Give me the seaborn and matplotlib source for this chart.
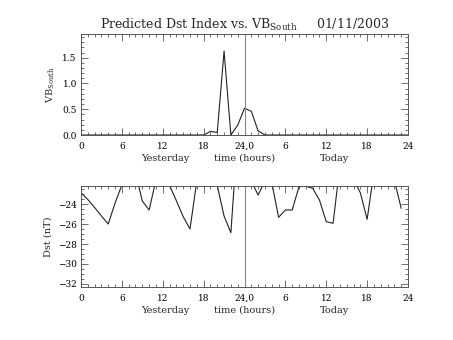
import matplotlib
matplotlib.use("Agg")
import matplotlib.pyplot as plt
from matplotlib.ticker import MultipleLocator, FixedLocator
import numpy as np
import pandas as pd
import seaborn as sns

# Hourly VB_South (0..48 h, yesterday + today)
vb_hours = list(range(49))
vb_south = [0, 0, 0, 0, 0, 0, 0, 0, 0, 0, 0, 0, 0, 0, 0, 0, 0, 0,
            0.0, 0.07, 0.05, 1.63, 0.0, 0.19, 0.52, 0.46, 0.08, 0.0,
            0, 0, 0, 0, 0, 0, 0, 0, 0, 0, 0, 0, 0, 0, 0, 0, 0, 0, 0, 0, 0]

# Hourly predicted Dst (nT), 0..47 h
dst_hours = list(range(48))
dst_values = [-22.87, -23.55, -24.35, -25.2, -26.0, -23.9, -22.1, -21.3,
              -20.87, -23.7, -24.6, -21.6, -21.2, -22.15, -23.67, -25.27,
              -26.5, -21.7, -21.4, -21.6, -22.15, -25.2, -26.87, -17.0,
              -20.0, -21.7, -23.1, -21.7, -21.85, -25.33, -24.6, -24.6,
              -22.27, -22.22, -22.43, -23.6, -25.77, -25.93, -20.2, -21.0,
              -21.53, -22.87, -25.53, -20.8, -21.2, -21.5, -21.64, -24.43]

tick_pos = [0, 6, 12, 18, 24, 30, 36, 42, 48]
tick_labels = ["0", "6", "12", "18", "24,0", "6", "12", "18", "24"]
day_labels = [(12.4, "Yesterday"), (24.0, "time (hours)"), (37.2, "Today")]

sns.set_style("ticks")
plt.rcParams["font.family"] = ["DejaVu Serif"]
plt.rcParams["mathtext.fontset"] = "dejavuserif"

fig = plt.figure(figsize=(4.53, 3.40), dpi=100)
ax1 = fig.add_axes([0.1788, 0.6029, 0.7219, 0.297])
ax2 = fig.add_axes([0.1788, 0.1559, 0.7219, 0.297])

df_vb = pd.DataFrame({"hour": vb_hours, "vb": vb_south})
df_dst = pd.DataFrame({"hour": dst_hours, "dst": dst_values})

sns.lineplot(data=df_vb, x="hour", y="vb", ax=ax1, color="#222222", lw=0.8)
sns.lineplot(data=df_dst, x="hour", y="dst", ax=ax2, color="#222222", lw=0.8)

ax1.set_ylim(0, 1.96)
ax2.set_ylim(-32.3, -22.2)
ax1.yaxis.set_major_locator(FixedLocator([0.0, 0.5, 1.0, 1.5]))
ax1.yaxis.set_major_formatter(matplotlib.ticker.FormatStrFormatter("%.1f"))
ax1.yaxis.set_minor_locator(MultipleLocator(0.1))
ax2.yaxis.set_major_locator(FixedLocator([-32, -30, -28, -26, -24]))
ax2.yaxis.set_minor_locator(MultipleLocator(0.5))

for ax in (ax1, ax2):
    ax.set_xlim(0, 48)
    ax.axvline(24, color="#888888", lw=0.8)
    ax.set_xticks(tick_pos)
    ax.set_xticklabels(tick_labels)
    ax.xaxis.set_minor_locator(MultipleLocator(1))
    ax.tick_params(which="both", direction="in", top=True, right=True,
                   colors="#555555", labelcolor="black", labelsize=6.5, width=0.6)
    ax.tick_params(which="major", length=5)
    ax.tick_params(which="minor", length=2.5)
    ax.tick_params(axis="x", pad=5)
    ax.tick_params(axis="y", pad=3)
    for s in ax.spines.values():
        s.set_color("#555555")
        s.set_linewidth(0.7)
    ax.set_xlabel("")
    for xpos, txt in day_labels:
        ax.text(xpos, -0.23, txt, transform=ax.get_xaxis_transform(),
                ha="center", va="center", fontsize=7)

ax1.set_ylabel("VB$_{\\mathrm{South}}$", fontsize=7, labelpad=4)
ax2.set_ylabel("Dst (nT)", fontsize=7, labelpad=4)
ax1.set_title("Predicted Dst Index vs. VB$_{\\mathrm{South}}$     01/11/2003",
              fontsize=9, pad=4)

fig.savefig("out.png", dpi=100)
